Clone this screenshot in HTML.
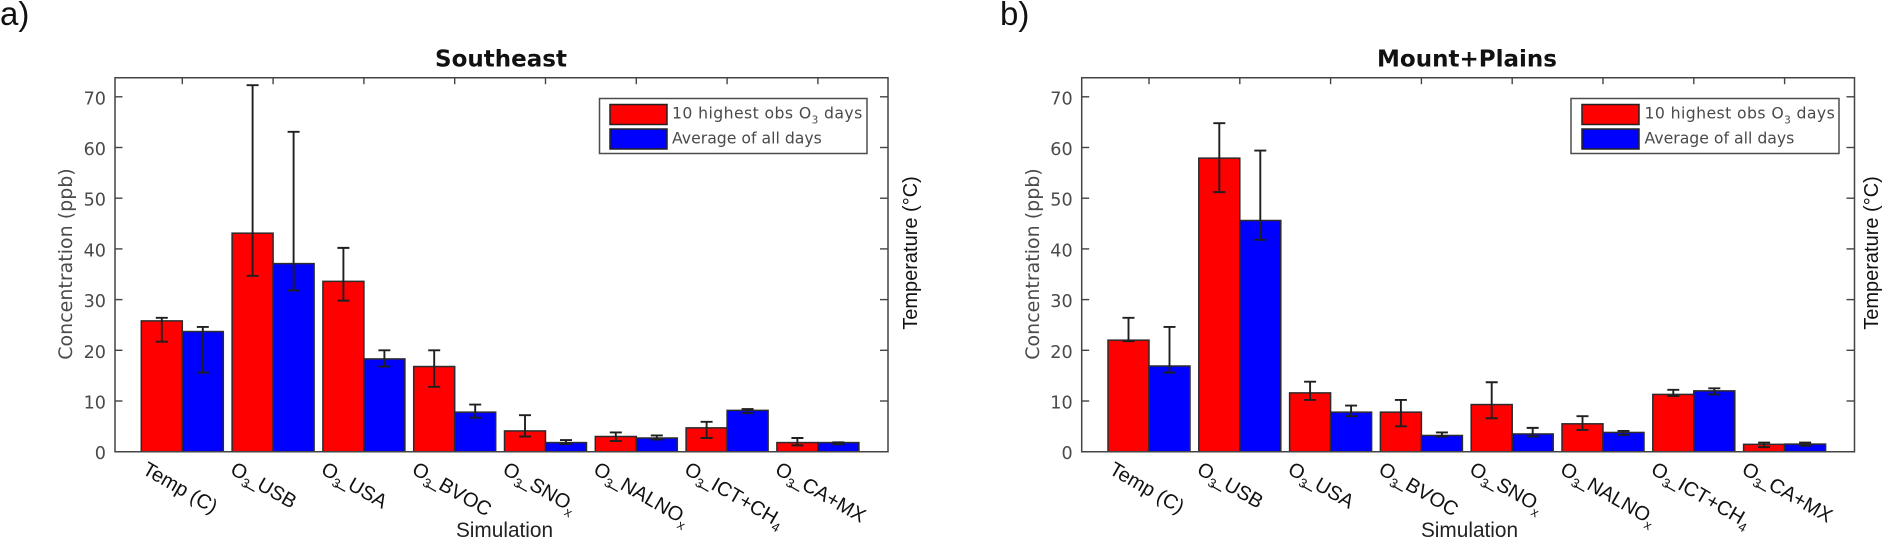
<!DOCTYPE html>
<html lang="en">
<head>
<meta charset="utf-8">
<title>Ozone concentration by simulation: Southeast and Mount+Plains</title>
<style>
html,body{margin:0;padding:0;background:#fff;width:1885px;height:539px;overflow:hidden}
svg{display:block}
.tick{font-family:"DejaVu Sans",sans-serif;font-size:17.6px;fill:#4a4a4a;text-anchor:end}
.ytitle{font-family:"DejaVu Sans",sans-serif;font-size:19px;fill:#4a4a4a;text-anchor:middle}
.title{font-family:"DejaVu Sans",sans-serif;font-size:23px;font-weight:bold;fill:#111;text-anchor:middle}
.leg{font-family:"DejaVu Sans",sans-serif;font-size:15.7px;fill:#4a4a4a}
.leg-wide{letter-spacing:.4px}
.seg{font-family:"Liberation Sans",sans-serif;fill:#111}
.panel-label{font-size:33px}
.rtitle{font-size:20px;text-anchor:middle}
.xtitle{font-size:20.8px;text-anchor:middle;fill:#222}
.cat{font-size:20px}
</style>
</head>
<body>
<svg id="chart" xmlns="http://www.w3.org/2000/svg" width="1885" height="539" viewBox="0 0 1885 539">
  <text class="seg panel-label" x="0" y="25">a)</text>
  <text class="seg panel-label" x="1000" y="25">b)</text>

  <g id="panel-a"></g>
  <g id="panel-b"></g>

  <text class="title" x="501" y="66.5">Southeast</text>
  <text class="title" x="1467" y="66.5">Mount+Plains</text>

  <text class="ytitle" transform="translate(72,264) rotate(-90)">Concentration (ppb)</text>
  <text class="ytitle" transform="translate(1039,264) rotate(-90)">Concentration (ppb)</text>

  <text class="seg rtitle" transform="translate(917,253) rotate(-90)">Temperature (°C)</text>
  <text class="seg rtitle" transform="translate(1878,253) rotate(-90)">Temperature (°C)</text>

  <text class="seg xtitle" x="504.5" y="537">Simulation</text>
  <text class="seg xtitle" x="1469.5" y="537">Simulation</text>

  <g>
    <rect x="599.5" y="98.5" width="267.5" height="55" fill="#fff" stroke="#4d4d4d" stroke-width="1.5"/>
    <rect x="610" y="104.5" width="57" height="20" fill="#f00" stroke="#222" stroke-width="1.5"/>
    <rect x="610" y="129" width="57" height="20" fill="#00f" stroke="#222" stroke-width="1.5"/>
    <text class="leg leg-wide" x="672" y="118.5">10 highest obs O<tspan font-size="10.5" dy="5">3</tspan><tspan dy="-5"> days</tspan></text>
    <text class="leg" x="672" y="143.5">Average of all days</text>
  </g>
  <g>
    <rect x="1571" y="98.5" width="268" height="55" fill="#fff" stroke="#4d4d4d" stroke-width="1.5"/>
    <rect x="1582" y="104.5" width="57" height="20" fill="#f00" stroke="#222" stroke-width="1.5"/>
    <rect x="1582" y="129" width="57" height="20" fill="#00f" stroke="#222" stroke-width="1.5"/>
    <text class="leg leg-wide" x="1644.5" y="118.5">10 highest obs O<tspan font-size="10.5" dy="5">3</tspan><tspan dy="-5"> days</tspan></text>
    <text class="leg" x="1644.5" y="143.5">Average of all days</text>
  </g>
</svg>
<script>
const categories = ['Temp (C)', 'O~3~_USB', 'O~3~_USA', 'O~3~_BVOC', 'O~3~_SNO~x', 'O~3~_NALNO~x', 'O~3~_ICT+CH~4', 'O~3~_CA+MX'];
const yTicks = [0, 10, 20, 30, 40, 50, 60, 70];

const southeastRed     = [25.8, 43.1, 33.6, 16.8, 4.1, 3.0, 4.7, 1.8];
const southeastRedHigh = [26.4, 72.3, 40.2, 20.0, 7.2, 3.8, 5.9, 2.7];
const southeastRedLow  = [21.7, 34.7, 29.8, 12.8, 3.0, 2.1, 2.7, 1.25];
const southeastBlue     = [23.7, 37.1, 18.3, 7.8, 1.8, 2.7, 8.15, 1.8];
const southeastBlueHigh = [24.6, 63.1, 20.0, 9.3, 2.3, 3.2, 8.4, 1.85];
const southeastBlueLow  = [15.6, 31.8, 16.8, 6.7, 1.5, 2.4, 7.6, 1.45];

const mountRed     = [22.0, 57.9, 11.6, 7.8, 9.3, 5.5, 11.3, 1.45];
const mountRedHigh = [26.4, 64.8, 13.8, 10.2, 13.7, 7.0, 12.2, 1.8];
const mountRedLow  = [21.8, 51.2, 10.2, 5.0, 6.6, 4.3, 11.0, 0.9];
const mountBlue     = [16.9, 45.6, 7.8, 3.2, 3.5, 3.8, 12.0, 1.5];
const mountBlueHigh = [24.6, 59.4, 9.1, 3.8, 4.7, 4.1, 12.5, 1.8];
const mountBlueLow  = [15.6, 41.8, 7.0, 3.0, 3.0, 3.3, 11.3, 1.2];

const NS = 'http://www.w3.org/2000/svg';
const TOP = 77.7, BASE = 451.7, PX_PER_UNIT = 5.07, GROUP_STEP = 90.8, BAR_W = 41;

function yScale(v) { return BASE - v * PX_PER_UNIT; }

function shape(parent, tag, props) {
  const el = document.createElementNS(NS, tag);
  for (const k in props) el.setAttribute(k, props[k]);
  parent.appendChild(el);
  return el;
}

function drawPanel(root, left, right, firstCenter, red, redHigh, redLow, blue, blueHigh, blueLow) {
  const xScale = i => firstCenter + GROUP_STEP * i;
  const axisColor = '#444';

  categories.forEach((cat, i) => {
    const c = xScale(i);

    const topTick = shape(root, 'line', {x1: c, x2: c, y1: TOP, y2: TOP + 6.5, stroke: axisColor, 'stroke-width': 1.4});
    
    

    const redBar = shape(root, 'rect', {x: c - BAR_W, y: yScale(red[i]), width: BAR_W, height: BASE - yScale(red[i]), fill: '#f00', stroke: '#2b2b2b', 'stroke-width': 1.5});
    
    

    const blueBar = shape(root, 'rect', {x: c, y: yScale(blue[i]), width: BAR_W, height: BASE - yScale(blue[i]), fill: '#00f', stroke: '#2b2b2b', 'stroke-width': 1.5});
    
    

    [[c - BAR_W / 2, redHigh[i], redLow[i]], [c + BAR_W / 2, blueHigh[i], blueLow[i]]].forEach(e => {
      const hi = yScale(e[1]), lo = yScale(e[2]);
      const d = 'M' + e[0] + ' ' + hi + 'V' + lo + 'M' + (e[0] - 6) + ' ' + hi + 'H' + (e[0] + 6) + 'M' + (e[0] - 6) + ' ' + lo + 'H' + (e[0] + 6);
      const err = shape(root, 'path', {d: d, fill: 'none', stroke: '#1f1f1f', 'stroke-width': 1.9});
      
      
    });

    const lx = c - (cat.includes('~') ? 44 : 41), ly = 473;
    const label = shape(root, 'text', {class: 'seg cat', transform: 'translate(' + lx + ',' + ly + ') rotate(30)', x: 0, y: 0});
    
    
    let shift = 0;
    cat.split('~').forEach((part, p) => {
      const isSub = p % 2 === 1;
      const span = shape(label, 'tspan', {dy: (isSub ? 5 : 0) - shift});
      if (isSub) span.setAttribute('font-size', '13');
      if (part.charAt(0) === '_') span.setAttribute('dx', '-3');
      span.textContent = part;
      shift = isSub ? 5 : 0;
    });
  });

  yTicks.forEach(t => {
    const y = yScale(t);
    const tl = shape(root, 'line', {x1: left, x2: left + 7.5, y1: y, y2: y, stroke: axisColor, 'stroke-width': 1.4});
    
    

    const tr = shape(root, 'line', {x1: right - 8, x2: right, y1: y, y2: y, stroke: axisColor, 'stroke-width': 1.4});
    
    

    const lab = shape(root, 'text', {class: 'tick', x: left - 9, y: y + 7.5});
    
    
    lab.textContent = t;
  });

  const frame = shape(root, 'path', {d: 'M' + left + ' ' + TOP + 'H' + right + 'V' + BASE + 'H' + left + 'Z', fill: 'none', stroke: axisColor, 'stroke-width': 1.5});
  
  
}

drawPanel(document.getElementById('panel-a'), 115, 888, 182.3,
  southeastRed, southeastRedHigh, southeastRedLow, southeastBlue, southeastBlueHigh, southeastBlueLow);
drawPanel(document.getElementById('panel-b'), 1081.7, 1854.5, 1149,
  mountRed, mountRedHigh, mountRedLow, mountBlue, mountBlueHigh, mountBlueLow);
</script>
</body>
</html>
